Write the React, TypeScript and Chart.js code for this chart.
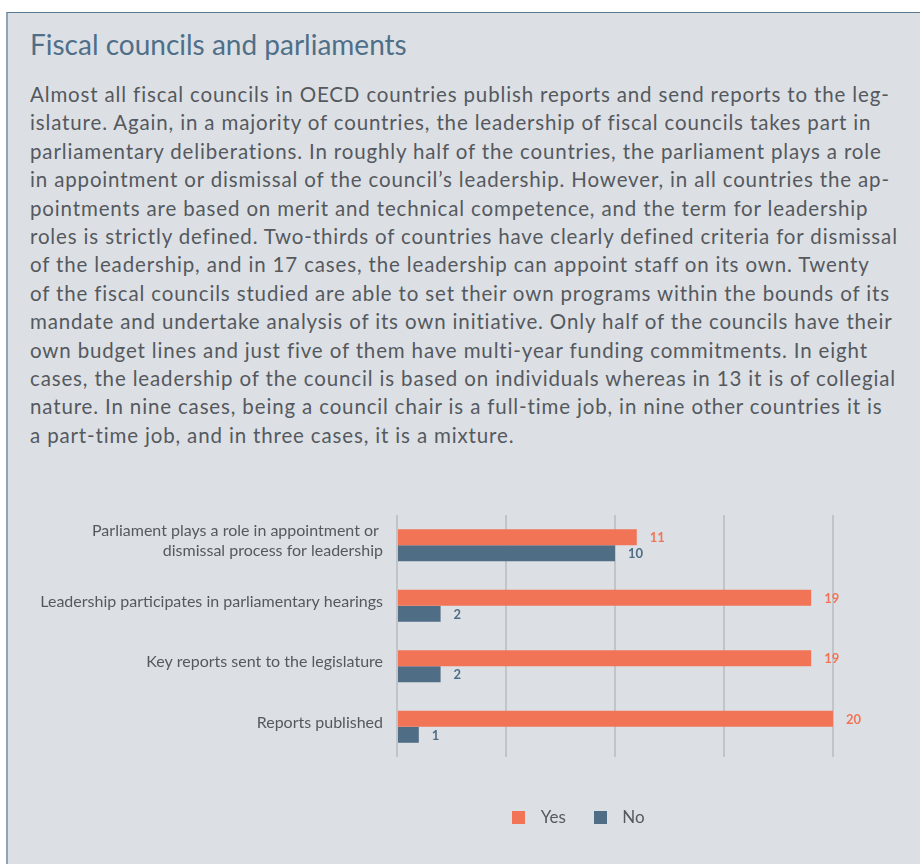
import React, { useEffect, useRef } from 'react';
import { Chart, registerables } from 'chart.js';

Chart.register(...registerables);

// ---- data ----
const categories: (string | string[])[] = [
  ['Parliament plays a role in appointment or ', 'dismissal process for leadership'],
  'Leadership participates in parliamentary hearings',
  'Key reports sent to the legislature',
  'Reports published',
];
const seriesNames = ['Yes', 'No'];
const yesValues = [11, 19, 19, 20];
const noValues = [10, 2, 2, 1];
const xTickValues = [0, 5, 10, 15, 20];

const TITLE = 'Fiscal councils and parliaments';
const PARAGRAPH_LINES = [
  'Almost all fiscal councils in OECD countries publish reports and send reports to the leg-',
  'islature. Again, in a majority of countries, the leadership of fiscal councils takes part in',
  'parliamentary deliberations. In roughly half of the countries, the parliament plays a role',
  'in appointment or dismissal of the council\u2019s leadership. However, in all countries the ap-',
  'pointments are based on merit and technical competence, and the term for leadership',
  'roles is strictly defined. Two-thirds of countries have clearly defined criteria for dismissal',
  'of the leadership, and in 17 cases, the leadership can appoint staff on its own. Twenty',
  'of the fiscal councils studied are able to set their own programs within the bounds of its',
  'mandate and undertake analysis of its own initiative. Only half of the councils have their',
  'own budget lines and just five of them have multi-year funding commitments. In eight',
  'cases, the leadership of the council is based on individuals whereas in 13 it is of collegial',
  'nature. In nine cases, being a council chair is a full-time job, in nine other countries it is',
  'a part-time job, and in three cases, it is a mixture.',
];

// ---- styles ----
const ORANGE = '#f27456';
const BLUE = '#4f6d84';
const GRID = '#c1c5ca';
const TEXT = '#55595e';
const FONT = 'Lato';
const LEGEND_CENTER_X = 545; // in canvas coordinates

function squareImage(color: string): HTMLCanvasElement {
  const c = document.createElement('canvas');
  c.width = 13;
  c.height = 13;
  const g = c.getContext('2d')!;
  g.fillStyle = color;
  g.fillRect(0, 0, 13, 13);
  return c;
}

const valueLabels = {
  id: 'valueLabels',
  afterDatasetsDraw(chart: any) {
    const ctx = chart.ctx;
    ctx.save();
    ctx.font = `bold 13px ${FONT}`;
    ctx.textBaseline = 'middle';
    ctx.textAlign = 'left';
    chart.data.datasets.forEach((ds: any, i: number) => {
      const meta = chart.getDatasetMeta(i);
      ctx.fillStyle = ds.labelColor;
      meta.data.forEach((bar: any, j: number) => {
        ctx.fillText(String(ds.data[j]), bar.x + 13, bar.y + 1);
      });
    });
    ctx.restore();
  },
};

const legendShift = {
  id: 'legendShift',
  afterLayout(chart: any) {
    const lg = chart.legend;
    if (!lg) return;
    const dx = LEGEND_CENTER_X - (lg.left + lg.right) / 2;
    lg.left += dx;
    lg.right += dx;
  },
};

function BarChart() {
  const ref = useRef<HTMLCanvasElement>(null);
  useEffect(() => {
    if (!ref.current) return;
    const colors = [ORANGE, BLUE];
    const images = colors.map(squareImage);
    const chart = new Chart(ref.current, {
      type: 'bar',
      data: {
        labels: categories,
        datasets: [
          { label: seriesNames[0], data: yesValues, backgroundColor: ORANGE, labelColor: ORANGE } as any,
          { label: seriesNames[1], data: noValues, backgroundColor: BLUE, labelColor: BLUE } as any,
        ],
      },
      options: {
        indexAxis: 'y',
        animation: false,
        responsive: true,
        maintainAspectRatio: false,
        categoryPercentage: 0.53,
        barPercentage: 1,
        layout: { padding: { left: 0, right: 67, top: 15, bottom: 20 } },
        scales: {
          x: {
            min: xTickValues[0],
            max: xTickValues[xTickValues.length - 1],
            afterBuildTicks: (scale: any) => {
              scale.ticks = xTickValues.map((v) => ({ value: v }));
            },
            afterFit: (scale: any) => {
              scale.height = 31;
            },
            ticks: { display: false },
            grid: { color: GRID, lineWidth: 2, drawTicks: false },
            border: { display: false },
          },
          y: {
            afterFit: (scale: any) => {
              scale.width = 367;
              scale.paddingTop = 0;
              scale.paddingBottom = 0;
            },
            ticks: {
              color: TEXT,
              padding: 14,
              labelOffset: -4,
              font: { family: FONT, size: 16, lineHeight: 1.25 },
            },
            grid: { display: false, drawTicks: false },
            border: { display: false },
          },
        },
        plugins: {
          legend: {
            position: 'bottom',
            labels: {
              usePointStyle: true,
              pointStyleWidth: 27,
              padding: 21,
              color: TEXT,
              font: { family: FONT, size: 17 },
              generateLabels: (ch: any) =>
                ch.data.datasets.map((ds: any, i: number) => ({
                  text: ds.label,
                  fillStyle: colors[i],
                  strokeStyle: colors[i],
                  lineWidth: 0,
                  pointStyle: images[i],
                  hidden: false,
                  datasetIndex: i,
                  fontColor: TEXT,
                })),
            },
          },
          tooltip: { enabled: false },
        },
      },
      plugins: [valueLabels, legendShift],
    } as any);
    return () => chart.destroy();
  }, []);
  return <canvas ref={ref} />;
}

export default function App() {
  return (
    <div
      style={{
        position: 'absolute',
        left: 0,
        top: 0,
        width: 920,
        height: 864,
        overflow: 'hidden',
        fontFamily: FONT,
        background: '#ffffff',
      }}
    >
      <div
        style={{
          position: 'absolute',
          left: 6,
          top: 12,
          width: 914,
          height: 852,
          boxSizing: 'border-box',
          background: '#dce0e5',
          borderTop: '1px solid #5b7b93',
          borderLeft: '2px solid #8fa3b3',
        }}
      />
      <div
        style={{
          position: 'absolute',
          left: 30,
          top: 30,
          fontSize: 28,
          lineHeight: '28px',
          color: '#4f6f89',
          whiteSpace: 'nowrap',
        }}
      >
        {TITLE}
      </div>
      <div
        style={{
          position: 'absolute',
          left: 30,
          top: 80,
          fontSize: 20.5,
          letterSpacing: '0.85px',
          lineHeight: '28.4px',
          color: TEXT,
          fontVariantLigatures: 'none',
        }}
      >
        {PARAGRAPH_LINES.map((line, i) => (
          <div key={i} style={{ whiteSpace: 'nowrap' }}>
            {line}
          </div>
        ))}
      </div>
      <div style={{ position: 'absolute', left: 30, top: 500, width: 870, height: 356 }}>
        <BarChart />
      </div>
    </div>
  );
}
